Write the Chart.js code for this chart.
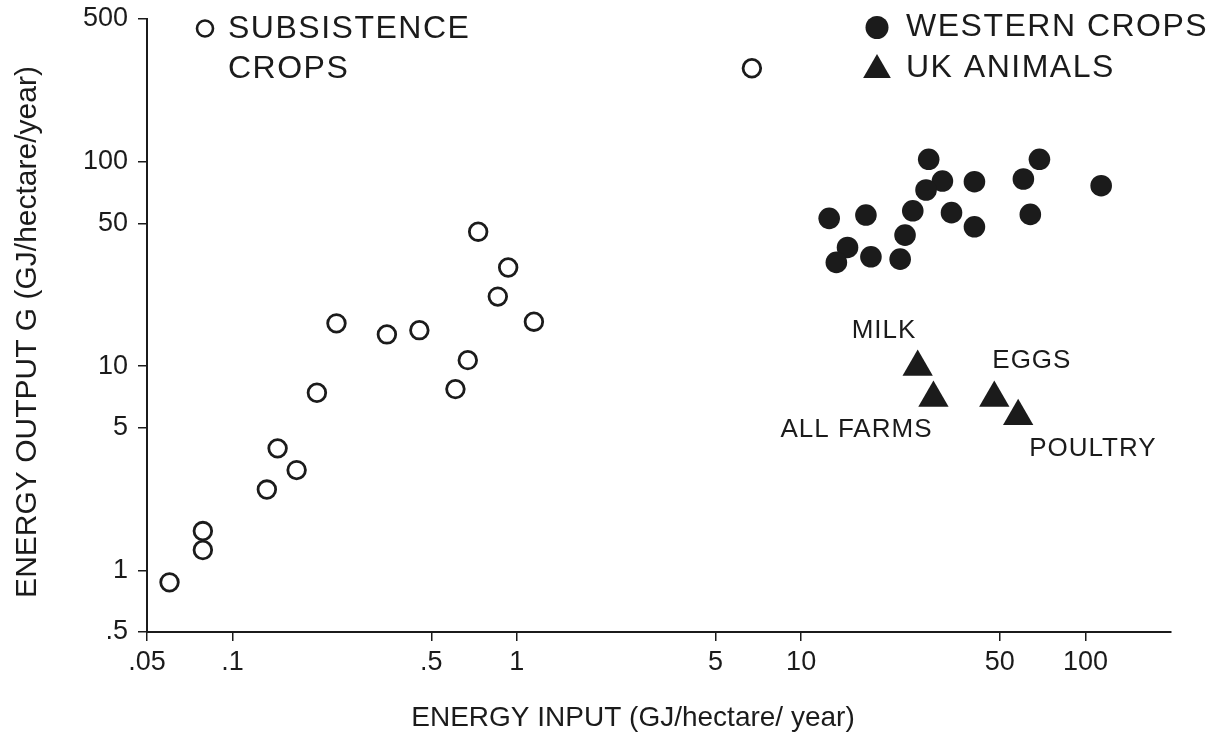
<!DOCTYPE html>
<html>
<head>
<meta charset="utf-8">
<script src="https://cdn.jsdelivr.net/npm/chart.js@4.4.0/dist/chart.umd.min.js"></script>
<style>
    html, body { margin: 0; padding: 0; background: #fff; }
    #wrap { width: 1214px; height: 737px; }
</style>
</head>
<body>
<div id="wrap"><canvas id="energyChart"></canvas></div>
<script>
// Subsistence crops (open circles)
const subsistenceX = [0.060, 0.0786, 0.0786, 0.132, 0.144, 0.168, 0.198, 0.232, 0.349, 0.454, 0.608, 0.672, 0.731, 0.932, 0.857, 1.148, 6.71];
const subsistenceY = [0.875, 1.56, 1.26, 2.49, 3.96, 3.10, 7.41, 16.2, 14.3, 15.0, 7.72, 10.7, 45.5, 30.4, 21.9, 16.5, 287];

// Western crops (filled circles)
const westernX = [28.1, 68.9, 31.4, 40.7, 60.5, 27.5, 113.6, 12.55, 16.9, 24.7, 33.8, 64.0, 40.7, 23.2, 14.56, 13.3, 17.6, 22.3];
const westernY = [102.9, 102.9, 80.5, 79.9, 82.4, 72.8, 76.4, 52.9, 54.9, 57.6, 56.4, 55.3, 48.1, 43.8, 38.1, 32.2, 34.3, 33.4];

// UK animals (triangles)
const animalLabels = ['MILK', 'ALL FARMS', 'EGGS', 'POULTRY'];
const animalX = [25.7, 29.2, 47.8, 58.0];
const animalY = [9.9, 6.98, 6.98, 5.68];

// axis ticks
const xTicks = [0.05, 0.1, 0.5, 1, 5, 10, 50, 100];
const xTickLabels = ['.05', '.1', '.5', '1', '5', '10', '50', '100'];
const yTicks = [0.5, 1, 5, 10, 50, 100, 500];
const yTickLabels = ['.5', '1', '5', '10', '50', '100', '500'];

const ink = '#1b1b1b';
const axisFont = '"Liberation Sans", Arial, sans-serif';

// where each animal label sits relative to its triangle (px)
const labelOffsets = [[-66, -29], [-153, 39], [-2, -30], [11, 40]];

const toPoints = (xs, ys) => xs.map((v, i) => ({x: v, y: ys[i]}));

// legend, point labels and axis titles
const figureText = {
    id: 'figureText',
    afterDatasetsDraw(chart) {
        const {ctx, scales: {x, y}} = chart;
        ctx.save();
        ctx.strokeStyle = ink;

        // legend symbols
        ctx.fillStyle = '#fff';
        ctx.lineWidth = 2.6;
        Chart.helpers.drawPoint(ctx, {pointStyle: 'circle', radius: 8, borderWidth: 2.6, rotation: 0}, 205, 28.5);
        ctx.fillStyle = ink;
        ctx.lineWidth = 0;
        Chart.helpers.drawPoint(ctx, {pointStyle: 'circle', radius: 11.5, borderWidth: 0, rotation: 0}, 877, 27.5);
        Chart.helpers.drawPoint(ctx, {pointStyle: 'triangle', radius: 16, borderWidth: 0, rotation: 0}, 877, 70);

        // legend text
        ctx.font = '32px "Liberation Sans", Arial, sans-serif';
        ctx.letterSpacing = '1.5px';
        ctx.textAlign = 'left';
        ctx.textBaseline = 'alphabetic';
        ctx.fillText('SUBSISTENCE', 228, 38);
        ctx.fillText('CROPS', 228, 78);
        ctx.fillText('WESTERN CROPS', 906, 36);
        ctx.fillText('UK ANIMALS', 906, 77);

        // labels next to the triangles
        ctx.font = '26px "Liberation Sans", Arial, sans-serif';
        ctx.letterSpacing = '1px';
        animalLabels.forEach((label, i) => {
            const px = x.getPixelForValue(animalX[i]);
            const py = y.getPixelForValue(animalY[i]);
            ctx.fillText(label, px + labelOffsets[i][0], py + labelOffsets[i][1]);
        });

        // axis titles
        ctx.letterSpacing = '0px';
        ctx.textAlign = 'center';
        ctx.textBaseline = 'middle';
        ctx.font = '28px ' + axisFont;
        ctx.fillText('ENERGY INPUT (GJ/hectare/ year)', 633, 718);
        ctx.font = '30px ' + axisFont;
        ctx.translate(28, 332);
        ctx.rotate(-Math.PI / 2);
        ctx.fillText('ENERGY OUTPUT G (GJ/hectare/year)', 0, 0);
        ctx.restore();
    }
};

const ctx = document.getElementById('energyChart').getContext('2d');

new Chart(ctx, {
    type: 'scatter',
    data: {
        datasets: [
            {
                label: 'SUBSISTENCE CROPS',
                data: toPoints(subsistenceX, subsistenceY),
                pointStyle: 'circle',
                pointRadius: 8.8,
                pointBorderWidth: 2.8,
                borderColor: ink,
                backgroundColor: '#fff',
            },
            {
                label: 'WESTERN CROPS',
                data: toPoints(westernX, westernY),
                pointStyle: 'circle',
                pointRadius: 10.8,
                pointBorderWidth: 0,
                borderColor: ink,
                backgroundColor: ink,
            },
            {
                label: 'UK ANIMALS',
                data: toPoints(animalX, animalY),
                pointStyle: 'triangle',
                pointRadius: 17.5,
                pointBorderWidth: 0,
                borderColor: ink,
                backgroundColor: ink,
            }
        ]
    },
    options: {
        responsive: true,
        maintainAspectRatio: false,
        animation: false,
        layout: {
            padding: {top: 19, right: 43, left: 0, bottom: 0}
        },
        plugins: {
            legend: {display: false},
            tooltip: {enabled: false}
        },
        scales: {
            x: {
                type: 'logarithmic',
                min: 0.05,
                max: 200,
                afterBuildTicks: scale => {
                    scale.ticks = xTicks.map(v => ({value: v}));
                },
                afterFit: scale => {
                    scale.height = 105;
                    scale.paddingLeft = 0;
                    scale.paddingRight = 0;
                },
                ticks: {
                    autoSkip: false,
                    maxRotation: 0,
                    padding: 5,
                    color: ink,
                    font: {family: axisFont, size: 27},
                    callback: v => xTickLabels[xTicks.indexOf(v)]
                },
                grid: {
                    drawOnChartArea: false,
                    tickLength: 9,
                    color: ink,
                    lineWidth: 1.5
                },
                border: {display: true, color: ink, width: 2}
            },
            y: {
                type: 'logarithmic',
                min: 0.5,
                max: 500,
                afterBuildTicks: scale => {
                    scale.ticks = yTicks.map(v => ({value: v}));
                },
                afterFit: scale => {
                    scale.width = 147;
                    scale.paddingTop = 0;
                    scale.paddingBottom = 0;
                },
                ticks: {
                    autoSkip: false,
                    padding: 10,
                    color: ink,
                    font: {family: axisFont, size: 27},
                    callback: v => yTickLabels[yTicks.indexOf(v)]
                },
                grid: {
                    drawOnChartArea: false,
                    tickLength: 9,
                    color: ink,
                    lineWidth: 1.5
                },
                border: {display: true, color: ink, width: 2}
            }
        }
    },
    plugins: [figureText]
});
</script>
</body>
</html>
